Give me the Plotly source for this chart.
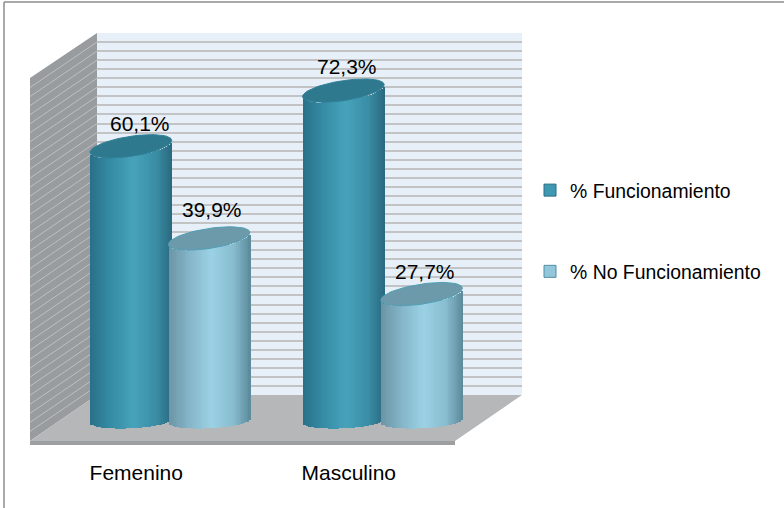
import numpy as np
import plotly.graph_objects as go

categories = ["Femenino", "Masculino"]
funcionamiento = [60.1, 72.3]
no_funcionamiento = [39.9, 27.7]
series_names = ["% Funcionamiento", "% No Funcionamiento"]

W, H = 784, 508
FONT = "Liberation Sans, Arial, sans-serif"


def px(x):
    return x / W


def py(y):
    return 1 - y / H


def dom_x(a, b):
    return [px(a), px(b)]


def dom_y(top, bottom):
    return [py(bottom), py(top)]


def hex2rgb(h):
    return np.array([int(h[i:i + 2], 16) for i in (1, 3, 5)], float)


def shade(u, stops):
    pos = [s[0] for s in stops]
    cols = np.array([hex2rgb(s[1]) for s in stops])
    rgb = [np.interp(u, pos, cols[:, k]) for k in range(3)]
    return "rgb(%d,%d,%d)" % tuple(int(c) for c in rgb)


TEAL = [(-1, "#2a7189"), (-0.55, "#348aa3"), (0.05, "#47a3bb"), (0.6, "#3a8ea6"), (1, "#2b6a80")]
LIGHT = [(-1, "#6b95a6"), (-0.5, "#85b5c8"), (0.05, "#9cd2e5"), (0.6, "#88bccf"), (1, "#5c8a9b")]
styles = [
    dict(values=funcionamiento, offset=-0.183, stops=TEAL, cap="#2f798f", edge="#2f8098", swatch="#3f98b2", swatch_line="#2b6f85"),
    dict(values=no_funcionamiento, offset=0.185, stops=LIGHT, cap="#6d9aaa", edge="#4f9fb5", swatch="#93c6da", swatch_line="#4f8ea3"),
]
HALF = 0.192   # half cylinder width, category units
TILT = 1.3     # top ellipse tilt, value units
MINOR = 2.2    # top ellipse half height, value units
FOOT_TILT = 0.45
FOOT_MINOR = 1.6
N = 46

fig = go.Figure()

# helper traces so the front and back axes are drawn
fig.add_trace(go.Scatter(x=[0, 1], y=[None, None], xaxis="x", yaxis="y", showlegend=False, hoverinfo="skip"))
fig.add_trace(go.Scatter(x=[0, 1], y=[None, None], xaxis="x2", yaxis="y2", showlegend=False, hoverinfo="skip"))

u = (np.arange(N) + 0.5) / N * 2 - 1
t = np.linspace(0, 2 * np.pi, 73)
foot = FOOT_TILT * u - FOOT_MINOR * np.sqrt(1 - u ** 2)
cap_edge = TILT * u - MINOR * np.sqrt(1 - u ** 2)

for st, name in zip(styles, series_names):
    centers = np.arange(len(categories)) + st["offset"]
    # plain bar carrying the value and the legend entry
    fig.add_trace(go.Bar(
        x=centers, y=st["values"], width=HALF, name=name, legendgroup=name,
        marker=dict(color=st["swatch"], line=dict(color=st["swatch_line"], width=1)),
        xaxis="x3", yaxis="y3", hoverinfo="skip"))
    # shading strips of the cylinders
    for c, v in zip(centers, st["values"]):
        fig.add_trace(go.Bar(
            x=c + HALF * u,
            y=v + cap_edge - foot,
            base=foot,
            width=2 * HALF / N * 1.2,
            marker=dict(color=[shade(a, st["stops"]) for a in u], line=dict(width=0)),
            showlegend=False, legendgroup=name, xaxis="x3", yaxis="y3", hoverinfo="skip"))
        fig.add_trace(go.Scatter(
            x=c + HALF * np.cos(t),
            y=v + TILT * np.cos(t) + MINOR * np.sin(t),
            mode="lines", fill="toself", fillcolor=st["cap"],
            line=dict(color=st["edge"], width=1),
            showlegend=False, legendgroup=name, xaxis="x3", yaxis="y3", hoverinfo="skip"))

# value labels
label_nudges = [[(9, 23), (4, 24)], [(3, 29), (3, 23)]]
annotations = []
for st, nudges in zip(styles, label_nudges):
    for i, v in enumerate(st["values"]):
        annotations.append(dict(
            x=i + st["offset"], y=v, xref="x3", yref="y3", showarrow=False,
            text=f"{v:.1f}".replace(".", ",") + "%",
            xshift=nudges[i][0], yshift=nudges[i][1],
            font=dict(family=FONT, size=21, color="#000000")))


def poly(points, fill, line="rgba(0,0,0,0)", width=0):
    d = "M" + "L".join(f"{px(x):.5f},{py(y):.5f}" for x, y in points) + "Z"
    return dict(type="path", path=d, xref="paper", yref="paper", fillcolor=fill,
                line=dict(color=line, width=width), layer="below")


def seg(x0, y0, x1, y1, color, width):
    return dict(type="line", x0=px(x0), y0=py(y0), x1=px(x1), y1=py(y1), xref="paper", yref="paper",
                line=dict(color=color, width=width), layer="below")


shapes = [
    # page frame
    seg(4, 2, 784, 2, "#8c8c8c", 1.5),
    seg(4, 2, 4, 508, "#8c8c8c", 1.5),
    # back wall
    poly([(97, 33), (522, 33), (522, 395), (97, 395)], "#e7f0f8"),
    # side wall
    poly([(30, 78), (97, 33), (97, 395), (30, 441)], "#989c9e"),
    # floor
    poly([(30, 441), (97, 395), (522, 395), (455, 441)], "#b5b7b9"),
    poly([(30, 441), (455, 441), (455, 445), (30, 445)], "#9d9fa1"),
]
for k in range(1, 40):
    y_back = 395 - k * 9.05
    shapes.append(seg(30, y_back + 45.5, 97, y_back, "rgba(226,228,230,0.5)", 1))

fig.update_layout(
    width=W, height=H, margin=dict(l=0, r=0, t=0, b=0),
    paper_bgcolor="#ffffff", plot_bgcolor="rgba(0,0,0,0)",
    barmode="overlay", bargap=0,
    shapes=shapes, annotations=annotations,
    xaxis=dict(domain=dom_x(30, 455), range=[-0.5, 1.5], anchor="y", tickmode="array",
               tickvals=list(range(len(categories))), ticktext=categories,
               tickfont=dict(family=FONT, size=21, color="#000000"),
               ticks="", ticklabelstandoff=15, showgrid=False, zeroline=False, showline=False),
    yaxis=dict(domain=dom_y(78, 443), range=[0, 80], anchor="x", visible=False),
    xaxis2=dict(domain=dom_x(97, 522), range=[-0.5, 1.5], anchor="y2", visible=False),
    yaxis2=dict(domain=dom_y(33, 395), range=[0, 80], anchor="x2", dtick=2, showgrid=True,
                gridcolor="#c2c3c4", gridwidth=2, zeroline=False, showline=False,
                showticklabels=False, ticks=""),
    xaxis3=dict(domain=dom_x(63.5, 488.5), range=[-0.5, 1.5], anchor="y3", visible=False),
    # the lower part of the range leaves room for the curved foot of the cylinders
    yaxis3=dict(domain=dom_y(55.5, 466.1), range=[-10, 80], anchor="x3", visible=False),
    legend=dict(x=px(530), y=py(171), xanchor="left", yanchor="top", tracegroupgap=53,
                font=dict(family=FONT, size=19.4, color="#000000"),
                bgcolor="rgba(0,0,0,0)", traceorder="grouped"),
    showlegend=True,
)

fig.write_html("out.html", config=dict(displayModeBar=False),
               post_script="document.body.style.margin='0';")
